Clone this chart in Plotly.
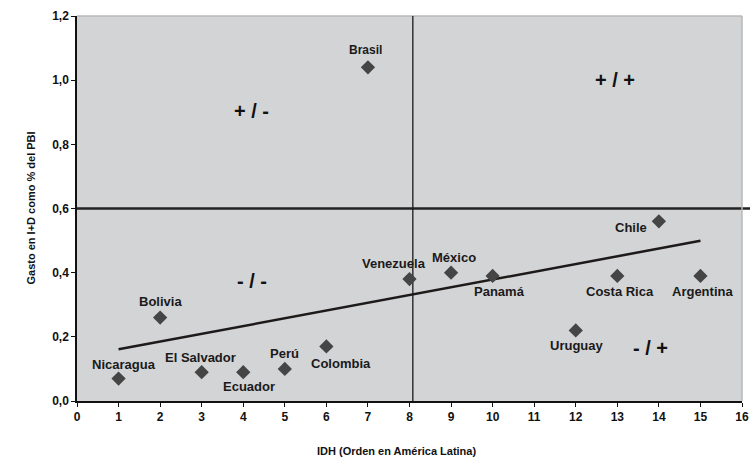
import numpy as np
import plotly.graph_objects as go

# Data
countries = ["Nicaragua", "Bolivia", "El Salvador", "Ecuador", "Perú", "Colombia", "Brasil",
             "Venezuela", "México", "Panamá", "Uruguay", "Costa Rica", "Chile", "Argentina"]
idh_rank = [1, 2, 3, 4, 5, 6, 7, 8, 9, 10, 12, 13, 14, 15]
gasto_id = [0.07, 0.26, 0.09, 0.09, 0.10, 0.17, 1.04, 0.38, 0.40, 0.39, 0.22, 0.39, 0.56, 0.39]

x_ticks = list(range(0, 17))
y_ticks = [0.0, 0.2, 0.4, 0.6, 0.8, 1.0, 1.2]
h_ref = 0.6
v_ref = 8.08

quadrants = ["+ / -", "+ / +", "- / -", "- / +"]
quad_pos = [(4.2, 0.905), (12.95, 1.0), (4.2, 0.375), (13.8, 0.165)]

x_title = "IDH (Orden en América Latina)"
y_title = "Gasto en I+D como % del PBI"

# label offsets (pixels) for readability
label_shift = {
    "Nicaragua": (5, 14), "Bolivia": (0, 16), "El Salvador": (-1, 15), "Ecuador": (6, -14),
    "Perú": (0, 15), "Colombia": (15, -17), "Brasil": (-2, 17), "Venezuela": (-16, 16),
    "México": (3, 15), "Panamá": (7, -16), "Uruguay": (1, -15), "Costa Rica": (3, -16),
    "Chile": (-28, -6), "Argentina": (2, -16),
}

FONT = "Liberation Sans, Arial, sans-serif"

# Linear trend line
slope, intercept = np.polyfit(idh_rank, gasto_id, 1)
tx = np.array([min(idh_rank), max(idh_rank)])
ty = slope * tx + intercept

fig = go.Figure()

fig.add_trace(go.Scatter(x=tx, y=ty, mode="lines",
                         line=dict(color="#1e1a1a", width=2.5), hoverinfo="skip", showlegend=False))

fig.add_trace(go.Scatter(x=idh_rank, y=gasto_id, mode="markers",
                         marker=dict(symbol="diamond", size=11, color="#454545",
                                     line=dict(width=0)),
                         text=countries, showlegend=False))

shapes = [
    dict(type="line", xref="x", yref="y", x0=v_ref, x1=v_ref, y0=0, y1=1.2,
         line=dict(color="#1a1a1a", width=1.3), layer="below"),
    dict(type="line", xref="paper", yref="y", x0=0, x1=1.02, y0=h_ref, y1=h_ref,
         line=dict(color="#222222", width=2.5), layer="below"),
    dict(type="line", xref="paper", yref="paper", x0=0, x1=1, y0=1, y1=1,
         line=dict(color="#b8b8b8", width=1.5), layer="below"),
    dict(type="line", xref="paper", yref="paper", x0=1, x1=1, y0=0, y1=1,
         line=dict(color="#b8b8b8", width=1.5), layer="below"),
]

annotations = []
for c, x, y in zip(countries, idh_rank, gasto_id):
    dx, dy = label_shift[c]
    annotations.append(dict(x=x, y=y, text="<b>%s</b>" % c, showarrow=False,
                            xshift=dx, yshift=dy,
                            font=dict(family=FONT, size=13 if c != "Brasil" else 12, color="#1a1a1a")))
for q, (qx, qy) in zip(quadrants, quad_pos):
    annotations.append(dict(x=qx, y=qy, text="<b>%s</b>" % q, showarrow=False,
                            font=dict(family=FONT, size=20, color="#111111")))

annotations.append(dict(xref="paper", yref="paper", x=0.48, y=0, yshift=-50, yanchor="middle",
                        text="<b>%s</b>" % x_title, showarrow=False,
                        font=dict(family=FONT, size=11, color="#111111")))
annotations.append(dict(xref="paper", yref="paper", x=0, xshift=-47, y=0.5, textangle=-90,
                        xanchor="center", yanchor="middle",
                        text="<b>%s</b>" % y_title, showarrow=False,
                        font=dict(family=FONT, size=11, color="#111111")))

fig.update_layout(
    width=750, height=467,
    margin=dict(l=77, r=8, t=16, b=66),
    paper_bgcolor="white",
    plot_bgcolor="#d3d4d6",
    separators=",.",
    shapes=shapes,
    annotations=annotations,
    font=dict(family=FONT, color="#111111"),
    xaxis=dict(range=[0, 16], tickmode="array", tickvals=x_ticks, automargin=False,
               ticklabeloverflow="allow",
               showgrid=False, zeroline=False, showline=True, linecolor="#111111", linewidth=1.5,
               mirror=False, ticks="outside", ticklen=4, tickcolor="#111111",
               tickfont=dict(family=FONT, size=12, color="#111111", weight="bold")),
    yaxis=dict(range=[0, 1.2], tickmode="array", tickvals=y_ticks, tickformat=".1f", automargin=False,
               showgrid=False, zeroline=False, showline=True, linecolor="#111111", linewidth=1.5,
               ticks="outside", ticklen=4, tickcolor="#111111",
               tickfont=dict(family=FONT, size=12, color="#111111", weight="bold")),
)

fig.write_html("out.html", config={"displayModeBar": False},
               post_script="document.body.style.margin='0';")
